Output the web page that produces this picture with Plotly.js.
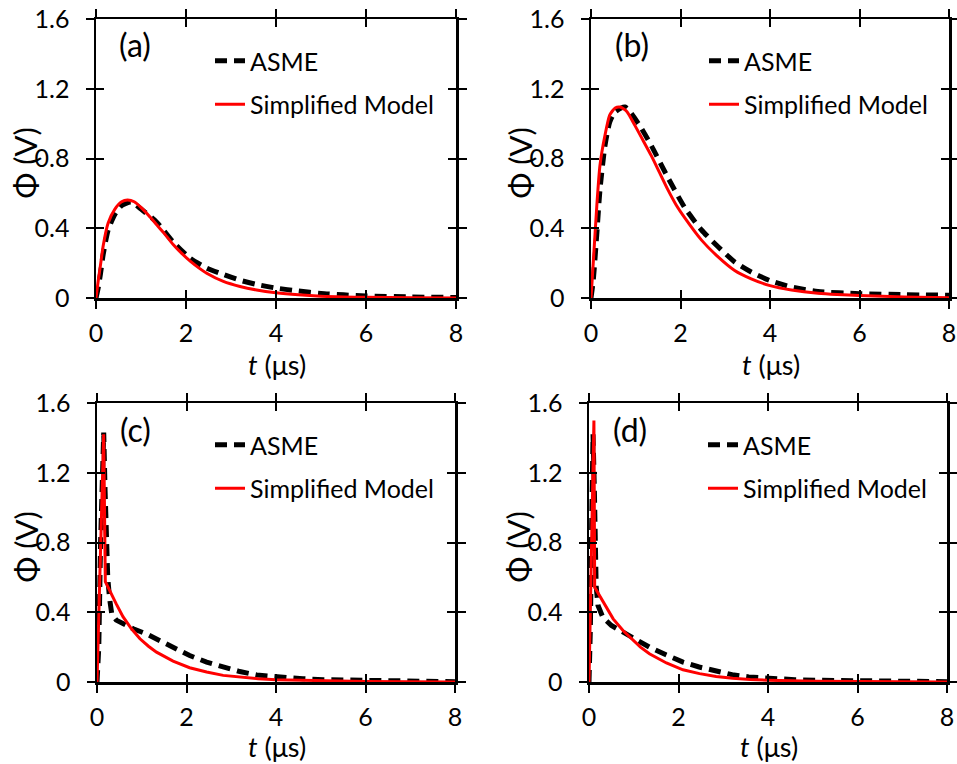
<!DOCTYPE html>
<html>
<head>
<meta charset="utf-8">
<script src="https://cdn.plot.ly/plotly-3.0.1.min.js"></script>
<style>html,body{margin:0;padding:0;background:#fff;}#chart{width:957px;height:764px;}</style>
</head>
<body>
<div id="chart"></div>
<script>
// ---------- data ----------
const panelLabels = ["(a)", "(b)", "(c)", "(d)"];
const seriesNames = ["ASME", "Simplified Model"];
const xTickVals = [0, 2, 4, 6, 8];
const yTickVals = [0, 0.4, 0.8, 1.2, 1.6];
const yTickText = ["0", "0.4", "0.8", "1.2", "1.6"];

// (a)
const tAsmeA = [0, 0.05, 0.1, 0.16, 0.27, 0.42, 0.57, 0.78, 1.0, 1.35, 1.72, 2.09, 2.46, 2.83, 3.2, 3.57, 4.0, 4.5, 5.0, 5.5, 6, 7, 8];
const asmeA  = [0, 0.06, 0.14, 0.25, 0.39, 0.48, 0.53, 0.55, 0.51, 0.435, 0.32, 0.228, 0.172, 0.135, 0.102, 0.078, 0.057, 0.04, 0.026, 0.018, 0.012, 0.006, 0.003];
const tSimA  = [0, 0.05, 0.1, 0.16, 0.27, 0.42, 0.57, 0.7, 0.85, 1.0, 1.2, 1.35, 1.5, 1.72, 1.9, 2.1, 2.3, 2.46, 2.83, 3.2, 3.57, 4.0, 4.5, 5.0, 5.5, 6, 7, 8];
const simA   = [0, 0.1, 0.19, 0.3, 0.43, 0.51, 0.552, 0.562, 0.552, 0.52, 0.465, 0.42, 0.375, 0.305, 0.257, 0.21, 0.17, 0.142, 0.095, 0.066, 0.046, 0.03, 0.018, 0.01, 0.006, 0.004, 0.001, 0];

// (b)
const tAsmeB = [0, 0.05, 0.13, 0.2, 0.31, 0.42, 0.54, 0.76, 1.06, 1.35, 1.72, 2.1, 2.47, 2.84, 3.21, 3.58, 4.0, 4.48, 5.07, 6, 7, 8];
const asmeB  = [0, 0.1, 0.37, 0.62, 0.87, 1.01, 1.067, 1.095, 1.0, 0.873, 0.69, 0.516, 0.39, 0.294, 0.207, 0.149, 0.10, 0.063, 0.037, 0.025, 0.019, 0.016];
const tSimB  = [0, 0.05, 0.13, 0.2, 0.31, 0.42, 0.54, 0.65, 0.8, 0.98, 1.15, 1.35, 1.53, 1.72, 1.9, 2.1, 2.47, 2.84, 3.21, 3.58, 4.0, 4.48, 5.07, 5.5, 6, 7, 8];
const simB   = [0, 0.2, 0.53, 0.76, 0.93, 1.05, 1.09, 1.095, 1.07, 0.99, 0.91, 0.815, 0.72, 0.62, 0.535, 0.458, 0.332, 0.236, 0.158, 0.11, 0.071, 0.046, 0.027, 0.02, 0.015, 0.006, 0.002];

// (c)
const tAsmeC = [0, 0.04, 0.08, 0.12, 0.15, 0.18, 0.21, 0.24, 0.28, 0.33, 0.43, 0.58, 0.81, 1.1, 1.4, 1.7, 2.07, 2.45, 2.82, 3.19, 3.57, 4.0, 4.6, 5.06, 6, 7, 8];
const asmeC  = [0, 0.2, 0.8, 1.3, 1.43, 1.1, 0.75, 0.6, 0.48, 0.39, 0.355, 0.335, 0.305, 0.276, 0.238, 0.2, 0.152, 0.114, 0.086, 0.06, 0.04, 0.029, 0.019, 0.013, 0.008, 0.004, 0.002];
const tSimC  = [0, 0.149, 0.186, 0.28, 0.43, 0.58, 0.77, 0.96, 1.15, 1.33, 1.7, 2.07, 2.45, 2.82, 3.19, 3.6, 4.0, 5.06, 6, 7, 8];
const simC   = [0, 1.42, 0.575, 0.524, 0.448, 0.375, 0.305, 0.248, 0.205, 0.171, 0.12, 0.082, 0.057, 0.038, 0.027, 0.019, 0.013, 0.006, 0.003, 0.001, 0];

// (d)
const tAsmeD = [0, 0.03, 0.06, 0.09, 0.12, 0.14, 0.16, 0.2, 0.31, 0.5, 0.76, 1.05, 1.35, 1.72, 2.1, 2.46, 2.83, 3.2, 3.57, 4.0, 4.6, 5.05, 6, 7, 8];
const asmeD  = [0, 0.3, 0.9, 1.42, 1.1, 0.8, 0.55, 0.44, 0.37, 0.324, 0.286, 0.238, 0.2, 0.156, 0.114, 0.086, 0.061, 0.042, 0.029, 0.021, 0.013, 0.01, 0.006, 0.003, 0.002];
const tSimD  = [0, 0.11, 0.127, 0.24, 0.39, 0.54, 0.76, 0.98, 1.15, 1.35, 1.73, 2.1, 2.47, 2.84, 3.21, 3.6, 4.0, 5.08, 6, 7, 8];
const simD   = [0, 1.50, 0.543, 0.495, 0.43, 0.362, 0.295, 0.238, 0.2, 0.162, 0.109, 0.07, 0.048, 0.032, 0.021, 0.014, 0.01, 0.004, 0.002, 0.001, 0];

const panels = [
  {tA: tAsmeA, a: asmeA, tS: tSimA, s: simA, shape: 'spline'},
  {tA: tAsmeB, a: asmeB, tS: tSimB, s: simB, shape: 'spline'},
  {tA: tAsmeC, a: asmeC, tS: tSimC, s: simC, shape: 'linear'},
  {tA: tAsmeD, a: asmeD, tS: tSimD, s: simD, shape: 'linear'}
];

// ---------- layout geometry (pixels) ----------
const W = 957, H = 764;
const boxes = [
  {l: 96,  r: 456,   t: 19,    b: 298},
  {l: 591, r: 949,   t: 19,    b: 298},
  {l: 97,  r: 455,   t: 403,   b: 682},
  {l: 589, r: 947,   t: 403,   b: 682}
];
const xTitleY = [364, 364, 746, 746];
const FONT = 'Lato, "Open Sans", sans-serif';
const px = x => x / W;
const py = y => 1 - y / H;

const traces = [];
const layout = {
  width: W, height: H, autosize: false,
  margin: {l: 0, r: 0, t: 0, b: 0},
  paper_bgcolor: '#fff', plot_bgcolor: '#fff',
  font: {family: FONT, size: 24, color: '#000'},
  showlegend: true,
  annotations: [],
};

panels.forEach((p, i) => {
  const n = i + 1, sfx = n === 1 ? '' : String(n);
  const xa = 'x' + sfx, ya = 'y' + sfx;
  const legName = n === 1 ? 'legend' : 'legend' + n;
  const bx = boxes[i];
  traces.push({
    x: p.tA, y: p.a, xaxis: xa, yaxis: ya, type: 'scatter', mode: 'lines',
    name: seriesNames[0], legend: legName, legendgroup: 'g1_' + n,
    line: {color: '#000', width: 5, dash: '12px,7px', shape: p.shape, smoothing: 0.6},
    hoverinfo: 'skip'
  });
  traces.push({
    x: p.tS, y: p.s, xaxis: xa, yaxis: ya, type: 'scatter', mode: 'lines',
    name: seriesNames[1], legend: legName, legendgroup: 'g2_' + n,
    line: {color: '#ff0000', width: 3, shape: p.shape, smoothing: 0.6},
    hoverinfo: 'skip'
  });
  // overlay axes for crossing ticks
  const ox = 'x' + (n + 4), oy = 'y' + (n + 4);
  traces.push({x: [0], y: [0], xaxis: ox, yaxis: ya, mode: 'none', type: 'scatter', showlegend: false, hoverinfo: 'skip'});
  traces.push({x: [0], y: [0], xaxis: xa, yaxis: oy, mode: 'none', type: 'scatter', showlegend: false, hoverinfo: 'skip'});

  const common = {showgrid: false, zeroline: false, tickwidth: 2, tickcolor: '#000', ticklen: 8, fixedrange: true};
  layout['xaxis' + sfx] = Object.assign({}, common, {
    domain: [px(bx.l), px(bx.r)], anchor: ya, range: [0, 8], tickvals: xTickVals,
    ticks: 'outside', mirror: 'ticks', showline: true, linecolor: '#000', linewidth: 2.5,
    tickfont: {family: FONT, size: 25, color: '#000'}, ticklabelstandoff: 3
  });
  layout['yaxis' + sfx] = Object.assign({}, common, {
    domain: [py(bx.b), py(bx.t)], anchor: xa, range: [0, 1.6], tickvals: yTickVals,
    ticktext: yTickText,
    ticks: 'outside', mirror: 'ticks', showline: true, linecolor: '#000', linewidth: 2.5,
    tickfont: {family: FONT, size: 25, color: '#000'}, ticklabelstandoff: 11
  });
  layout['xaxis' + (n + 4)] = Object.assign({}, common, {
    overlaying: xa, anchor: ya, range: [0, 8], tickvals: xTickVals,
    ticks: 'inside', mirror: 'ticks', showline: false, showticklabels: false
  });
  layout['yaxis' + (n + 4)] = Object.assign({}, common, {
    overlaying: ya, anchor: xa, range: [0, 1.6], tickvals: yTickVals,
    ticks: 'inside', mirror: 'ticks', showline: false, showticklabels: false
  });

  // legend
  const legX = [210, 704, 210, 703][i];
  const legY = [38, 38, 422, 422][i];
  layout[legName] = {
    x: px(legX), y: py(legY), xanchor: 'left', yanchor: 'top',
    bgcolor: 'rgba(0,0,0,0)', borderwidth: 0,
    font: {family: FONT, size: 25, color: '#000'},
    traceorder: 'grouped', tracegroupgap: 8, itemclick: false, itemdoubleclick: false
  };

  // panel label
  const lab = [[135, 44], [631.5, 44], [135, 429], [629.5, 429]][i];
  layout.annotations.push({
    xref: 'paper', yref: 'paper', x: px(lab[0]), y: py(lab[1]), xanchor: 'center', yanchor: 'middle',
    text: panelLabels[i], showarrow: false, font: {family: FONT, size: 32, color: '#000'}
  });
  // axis titles
  layout.annotations.push({
    xref: 'paper', yref: 'paper', x: px((bx.l + bx.r) / 2 + 1), y: py(xTitleY[i]), xanchor: 'center', yanchor: 'middle',
    text: '<i>t</i> (\u03bcs)', showarrow: false, font: {family: FONT, size: 27, color: '#000'}
  });
  layout.annotations.push({
    xref: 'paper', yref: 'paper', x: px(bx.l - 72), y: py((bx.t + bx.b) / 2 + 5), xanchor: 'center', yanchor: 'middle',
    textangle: -90, text: '\u03a6 (V)', showarrow: false, font: {family: FONT, size: 31, color: '#000'}
  });
});

Plotly.newPlot('chart', traces, layout, {staticPlot: true, displayModeBar: false});
</script>
</body>
</html>
